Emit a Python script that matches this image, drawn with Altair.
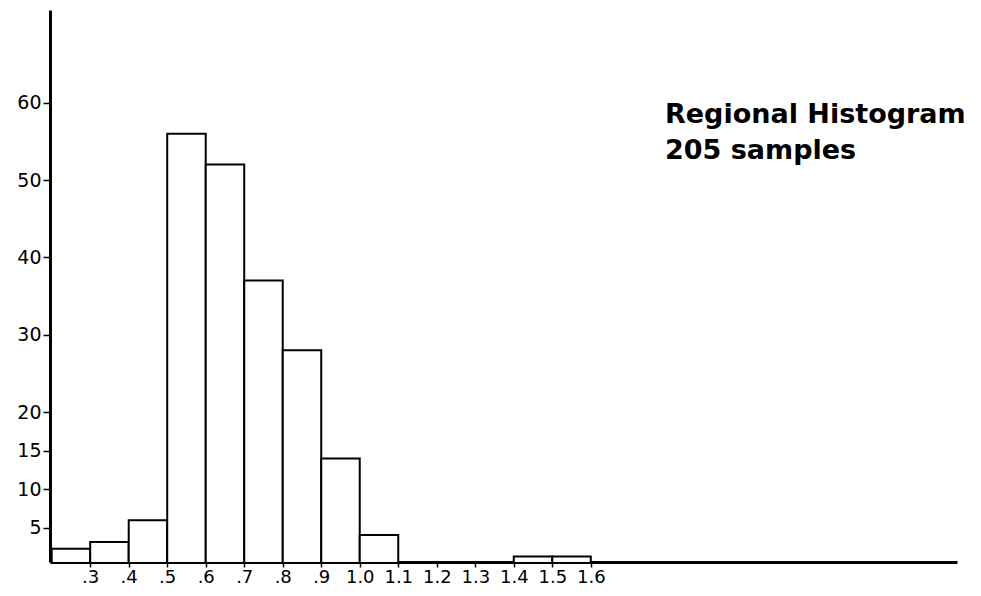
import altair as alt
import pandas as pd

bin_start = [0.2, 0.3, 0.4, 0.5, 0.6, 0.7, 0.8, 0.9, 1.0, 1.4, 1.5]
bin_end = [0.3, 0.4, 0.5, 0.6, 0.7, 0.8, 0.9, 1.0, 1.1, 1.5, 1.6]
counts = [2.3, 3.2, 6, 56, 52, 37, 28, 14, 4.1, 1.3, 1.3]

x_ticks = [0.3, 0.4, 0.5, 0.6, 0.7, 0.8, 0.9, 1.0, 1.1, 1.2, 1.3, 1.4, 1.5, 1.6]
y_ticks = [5, 10, 15, 20, 30, 40, 50, 60]
title_lines = ["Regional Histogram", "205 samples"]

df = pd.DataFrame({"start": bin_start, "end": bin_end, "count": counts})

FONT = "DejaVu Sans"

xscale = alt.Scale(domain=[0.1956, 2.551], nice=False, zero=False)
yscale = alt.Scale(domain=[0.6, 72], nice=False, zero=False)

bars = alt.Chart(df).mark_rect(
    fill="white", stroke="black", strokeWidth=2, clip=True
).encode(
    x=alt.X("start:Q", scale=xscale, axis=alt.Axis(
        values=x_ticks, title=None, grid=False,
        labelExpr="datum.value < 1 ? replace(format(datum.value, '.1f'), '0.', '.') : format(datum.value, '.1f')",
        labelFont=FONT, labelFontSize=18, labelColor="black",
        labelBaseline="alphabetic", labelPadding=15,
        tickSize=5, tickColor="black", tickWidth=1.5,
        domainColor="black", domainWidth=3,
        labelFlush=False, labelOverlap=False,
    )),
    x2="end:Q",
    y=alt.Y("count:Q", scale=yscale, axis=alt.Axis(
        values=y_ticks, title=None, grid=False,
        labelFont=FONT, labelFontSize=19, labelColor="black",
        tickSize=7, tickColor="black", tickWidth=1.5,
        domainColor="black", domainWidth=3, labelPadding=2,
        labelFlush=False, labelOverlap=False,
    )),
    y2=alt.datum(0),
)

text1 = alt.Chart(pd.DataFrame({"line": [title_lines[0]]})).mark_text(
    align="left", baseline="alphabetic", font=FONT, fontSize=27,
    fontWeight="bold", color="black"
).encode(text="line:N", x=alt.value(615), y=alt.value(113))

text2 = alt.Chart(pd.DataFrame({"line": [title_lines[1]]})).mark_text(
    align="left", baseline="alphabetic", font=FONT, fontSize=27,
    fontWeight="bold", color="black"
).encode(text="line:N", x=alt.value(615), y=alt.value(149))

chart = alt.layer(bars, text1, text2).properties(
    width=907, height=552,
    autosize=alt.AutoSizeParams(type="none"),
    padding={"left": 42, "top": 2, "right": 8, "bottom": 26},
    background="white",
).configure_view(stroke=None)

chart.save("out.html", embed_options={"renderer": "svg", "actions": False})
